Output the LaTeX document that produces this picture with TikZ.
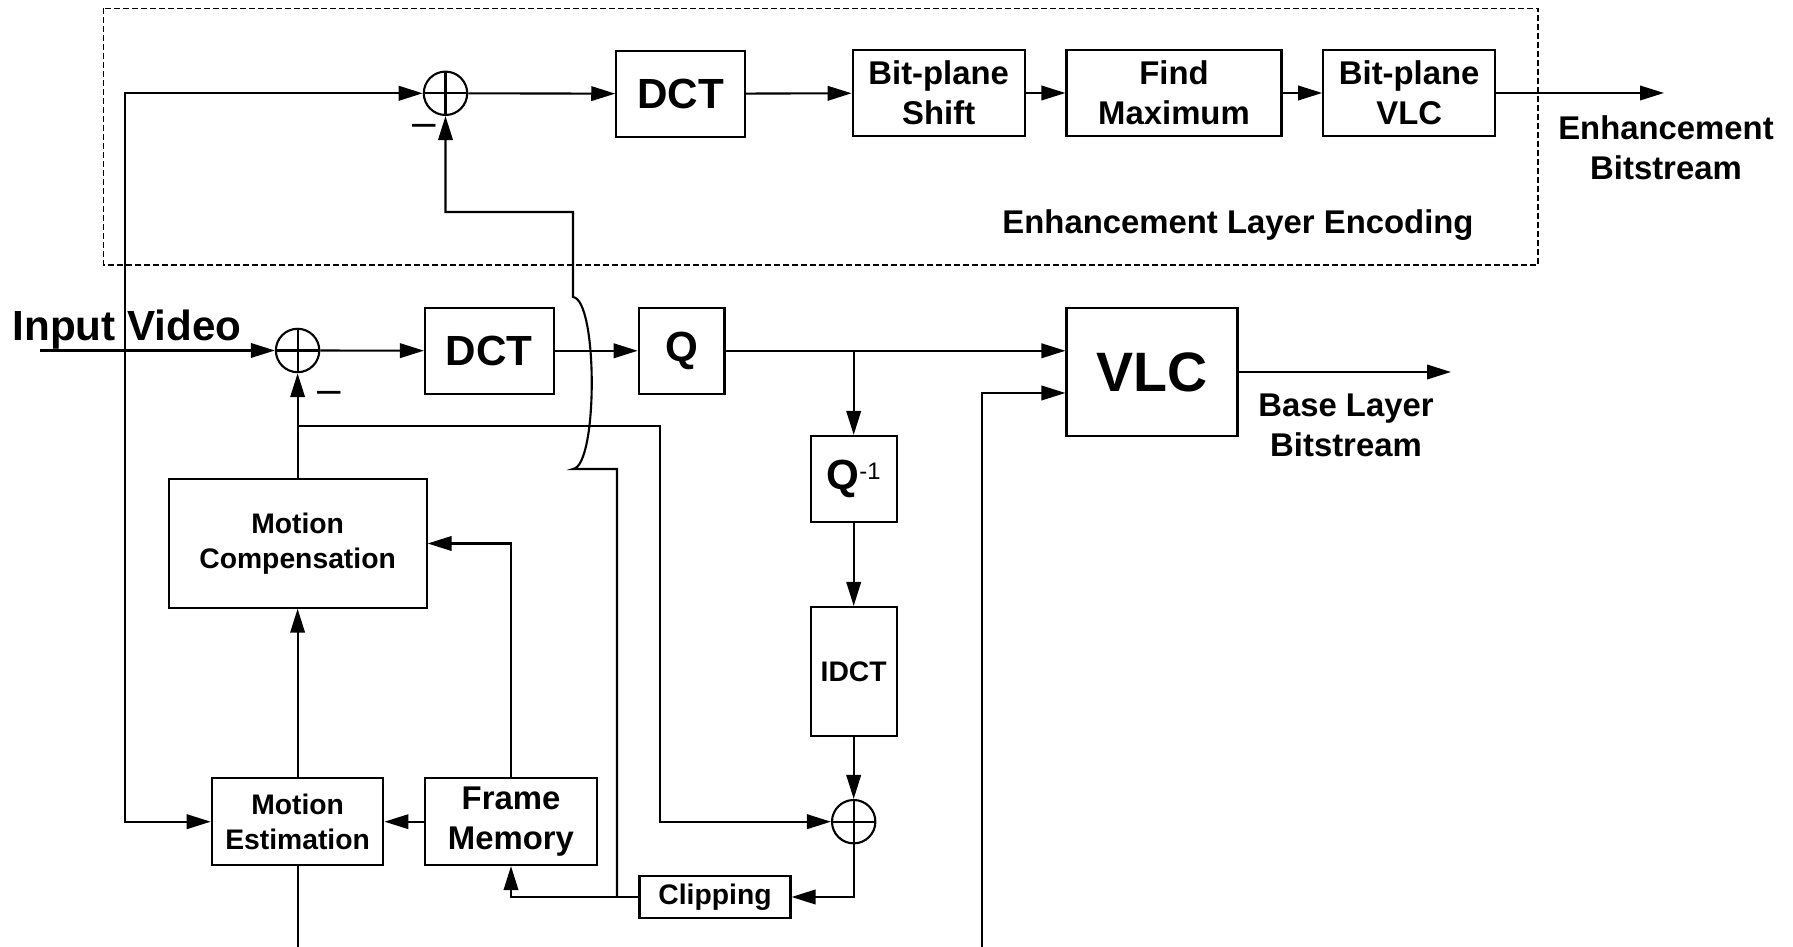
\documentclass[tikz,border=0pt]{standalone}
\usepackage{fontspec}
\setmainfont{Liberation Sans}
\usetikzlibrary{arrows.meta}

\tikzset{
  blk/.style={draw, inner sep=0pt, align=center},
  sumnode/.style={circle, draw, minimum size=4.34mm, inner sep=0pt,
    path picture={\draw (path picture bounding box.north) -- (path picture bounding box.south)
      (path picture bounding box.west) -- (path picture bounding box.east);}},
  bigtxt/.style={font=\fontsize{12}{14}\selectfont\bfseries},
  hugetxt/.style={font=\fontsize{15.8}{18}\selectfont\bfseries},
  midtxt/.style={font=\fontsize{9.35}{11.4}\selectfont\bfseries, align=center},
  smalltxt/.style={font=\fontsize{8.05}{9.8}\selectfont\bfseries},
  minus/.style={font=\fontsize{12}{14}\selectfont, inner sep=0pt, anchor=base}
}

\begin{document}
\begin{tikzpicture}[x=0.1mm,y=-0.1mm,line width=0.6pt,>={Triangle[length=2.4mm,width=1.45mm]}]
\useasboundingbox (0,0) rectangle (1793,947);
% enhancement layer
\draw[line width=0.45pt, dash pattern=on 0.6mm off 0.3mm] (103.5,8.5) rectangle (1538,265);
\node[sumnode] (sumE) at (445.5,93.3) {};
\node[minus] (mE) at (424.5,137) {–};
\node[blk, bigtxt, minimum width=12.86mm, minimum height=8.57mm] (dctE) at (680.6,93.8) {DCT};
\node[blk, midtxt, minimum width=17.2mm, minimum height=8.6mm] (shift) at (938.7,93) {Bit-plane\\Shift};
\node[blk, midtxt, minimum width=21.5mm, minimum height=8.6mm] (findmax) at (1174,93) {Find\\Maximum};
\node[blk, midtxt, minimum width=17.2mm, minimum height=8.6mm] (bpvlc) at (1409.2,93) {Bit-plane\\VLC};
\coordinate (enhout) at (1664,93);
\node[midtxt] (enhtxt) at (1666,148) {Enhancement\\Bitstream};
\node[midtxt, anchor=base] (layer) at (1238,234) {Enhancement Layer Encoding};

% base layer
\node[bigtxt, anchor=base] (invid) at (127,341) {Input Video};
\coordinate (in) at (40,350.5);
\node[sumnode] (sumB) at (297.6,350.5) {};
\node[minus] (mB) at (329,404) {–};
\node[blk, bigtxt, minimum width=12.86mm, minimum height=8.63mm] (dctB) at (489.3,350.8) {DCT};
\node[blk, bigtxt, minimum width=8.57mm, minimum height=8.6mm] (quant) at (681.6,350.8) {Q};
\node[blk, hugetxt, minimum width=17.1mm, minimum height=12.85mm] (vlc) at (1152,372) {VLC};
\coordinate (baseout) at (1451,372);
\node[midtxt] (basetxt) at (1346,425.5) {Base Layer\\Bitstream};
\node[blk, bigtxt, minimum width=8.6mm, minimum height=8.57mm] (iquant) at (853.7,478.8)
  {Q\raisebox{2.9pt}{\fontsize{6.8}{8}\selectfont\mdseries -1}};
\node[blk, smalltxt, minimum width=8.6mm, minimum height=12.9mm] (idct) at (853.7,671.5) {IDCT};
\node[sumnode] (sumR) at (853.7,821.7) {};
\node[blk, smalltxt, minimum width=15.1mm, minimum height=4.26mm] (clip) at (715,897) {Clipping};
\node[blk, smalltxt, minimum width=25.8mm, minimum height=12.84mm] (mc) at (297.6,543.5) {Motion\\Compensation};
\node[blk, smalltxt, minimum width=17.16mm, minimum height=8.67mm] (me) at (297.6,821.7) {Motion\\Estimation};
\node[blk, midtxt, minimum width=17.17mm, minimum height=8.67mm] (fmem) at (511,821.7) {Frame\\Memory};

% enhancement path
\draw[<->] (sumE.west) -- (125,93.3) |- (me.west);
\draw[->] (sumE) -- (dctE);
\draw[->] (dctE) -- (shift);
\draw[->] (shift) -- (findmax);
\draw[->] (findmax) -- (bpvlc);
\draw[->] (bpvlc) -- (enhout);

% base path
\draw[->] (in) -- (sumB.west);
\draw[->] (sumB) -- (dctB);
\draw[->] (dctB) -- (quant);
\draw[->] (quant.east) -- (quant.east -| vlc.west);
\draw[->] (iquant.north |- quant.east) -- (iquant.north);
\draw[->] (iquant) -- (idct);
\draw[->] (idct) -- (sumR);
\draw[->] (sumR.south) |- (clip.east);
\draw[->] (clip.west) -| (fmem.south);
\draw[->] (fmem) -- (me);
\draw[->] (me) -- (mc);
\draw[->] (fmem.north) |- (mc.east);
\draw[->] (mc) -- (sumB);
\draw[->] (vlc.east) -- (baseout);

% prediction loop
\coordinate (pred) at (297.6,426);
\draw[->] (pred) -- (660,426) |- (sumR.west);
\draw[->] (617,897) -- (617,469) -- (573,469) .. controls (598,466) and (598,300) .. (573,297)
  -- (573,212) -| (sumE.south);

% motion vectors
\draw (me.south) -- (297.6,947);
\draw[->] (982,947) |- (vlc.west |- 0,393);
\end{tikzpicture}
\end{document}
